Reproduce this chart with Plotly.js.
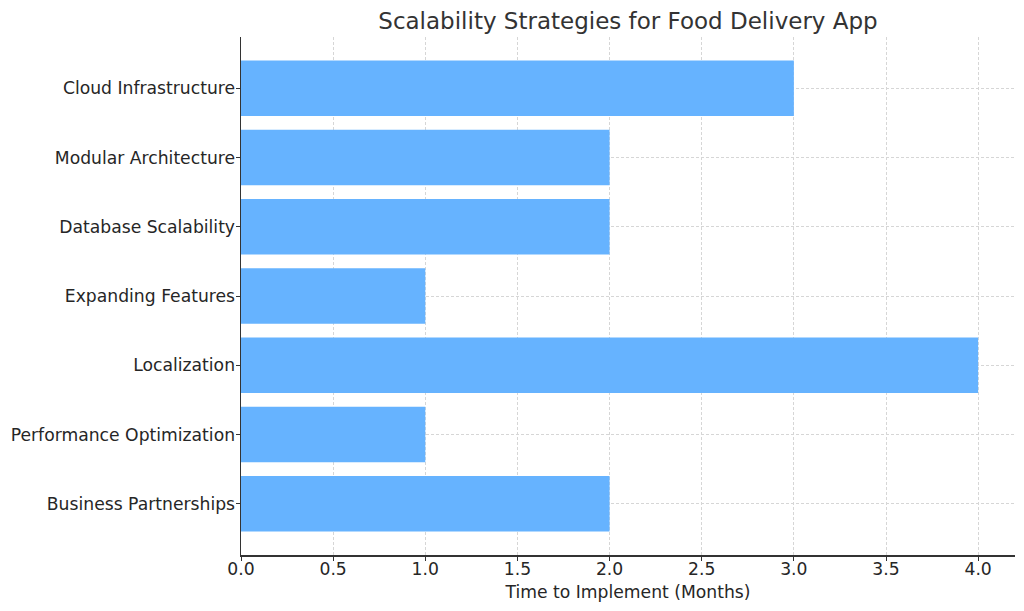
<!DOCTYPE html>
<html>
<head>
<meta charset="utf-8">
<script src="https://cdn.plot.ly/plotly-3.0.1.min.js"></script>
<style>html,body{margin:0;padding:0;background:#fff;}#chart{width:1024px;height:611px;}</style>
</head>
<body>
<div id="chart"></div>
<script>
const strategies = ["Cloud Infrastructure", "Modular Architecture", "Database Scalability", "Expanding Features", "Localization", "Performance Optimization", "Business Partnerships"];
const months = [3, 2, 2, 1, 4, 1, 2];
const xTicks = [0, 0.5, 1, 1.5, 2, 2.5, 3, 3.5, 4];
const xTickText = ["0.0", "0.5", "1.0", "1.5", "2.0", "2.5", "3.0", "3.5", "4.0"];

const trace = {
  type: 'bar',
  orientation: 'h',
  x: months,
  y: strategies,
  marker: {color: '#66b3ff'},
  width: 0.8,
  hoverinfo: 'x+y'
};

const layout = {
  width: 1024,
  height: 611,
  margin: {l: 241, r: 9, t: 37, b: 56},
  paper_bgcolor: '#ffffff',
  plot_bgcolor: '#ffffff',
  font: {family: 'DejaVu Sans, sans-serif', size: 17.2, color: '#262626'},
  title: {
    text: 'Scalability Strategies for Food Delivery App',
    x: 0.5, xref: 'paper', xanchor: 'center',
    y: 0.965, yref: 'container', yanchor: 'middle',
    font: {size: 23, color: '#333333'}
  },
  xaxis: {
    range: [0, 4.2],
    tickvals: xTicks,
    ticktext: xTickText,
    ticks: 'outside', ticklen: 4, tickcolor: '#333333', tickwidth: 1,
    showline: true, linecolor: '#333333', linewidth: 1.5,
    showgrid: true, gridcolor: '#d6d6d6', griddash: '3px,2px', gridwidth: 1,
    zeroline: false,
    tickfont: {size: 17.2, color: '#262626'},
    ticklabelstandoff: -6,
    title: {text: 'Time to Implement (Months)', font: {size: 17.2, color: '#262626'}, standoff: 8}
  },
  yaxis: {
    type: 'category',
    categoryorder: 'array',
    categoryarray: strategies,
    range: [6.74, -0.74],
    ticks: 'outside', ticklen: 4, tickcolor: '#333333', tickwidth: 1,
    showline: true, linecolor: '#333333', linewidth: 1.5,
    showgrid: true, gridcolor: '#d6d6d6', griddash: '3px,2px', gridwidth: 1,
    zeroline: false,
    tickfont: {size: 17.2, color: '#262626'},
    ticklabelstandoff: -3
  },
  showlegend: false,
  bargap: 0.2
};

Plotly.newPlot('chart', [trace], layout, {displayModeBar: false, staticPlot: true});
</script>
</body>
</html>
